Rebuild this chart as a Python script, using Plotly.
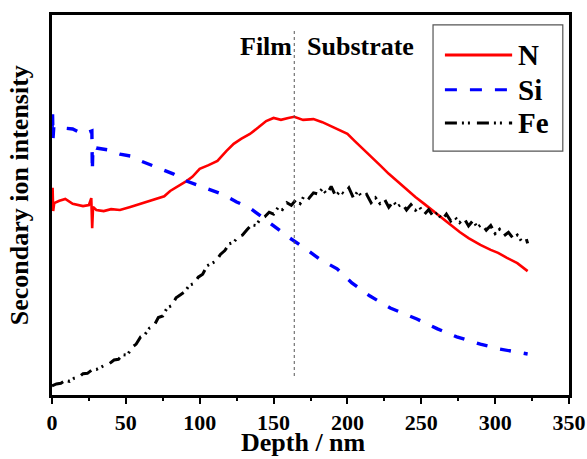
import plotly.graph_objects as go

# Depth profiles (depth in nm, intensity in arbitrary units)
n_depth = [0, 0.4, 0.8, 1.5, 5, 9, 14, 21, 25, 26.6, 27.2, 27.8, 30, 35, 40, 46, 53, 60, 66, 71,
           76, 80, 86, 91, 95, 100, 106, 112, 118, 123, 128, 134, 140, 145, 150, 155, 160, 164,
           170, 177, 183, 190, 195, 200, 205, 210, 216, 222, 228, 234, 240, 246, 252, 258, 264,
           270, 276, 282, 290, 297, 302, 308, 315, 322]
n_int = [50.3, 54.5, 48.4, 50.5, 51.1, 51.6, 50.3, 49.7, 50.0, 51.8, 43.9, 49.5, 48.7, 48.4, 48.9,
         48.7, 49.5, 50.3, 51.1, 51.6, 52.3, 53.7, 55.0, 56.3, 57.4, 59.5, 60.5, 61.6, 64.2, 66.1,
         67.4, 68.7, 70.5, 72.1, 72.9, 72.4, 72.9, 73.2, 72.4, 72.6, 71.8, 70.5, 69.7, 68.7, 66.8,
         65.0, 62.9, 60.5, 58.2, 56.1, 54.2, 52.1, 50.3, 48.4, 46.6, 44.7, 42.9, 41.3, 39.5, 38.2,
         37.4, 36.1, 34.7, 32.6]

si_depth = [0, 0.3, 0.7, 1.2, 6.5, 14, 21, 26, 27, 27.3, 27.7, 30, 38, 46, 53, 60, 68, 75, 82, 91,
            98, 105, 115, 125, 134, 143, 152, 161, 172, 181, 193, 203, 215, 229, 247, 261, 274,
            290, 303, 322]
si_int = [70.8, 75.5, 67.6, 70.5, 70.3, 70.0, 68.7, 69.2, 69.5, 58.9, 65.5, 65.0, 64.5, 63.4, 62.9,
          61.6, 60.3, 59.2, 58.2, 56.3, 55.3, 54.5, 52.9, 50.8, 49.2, 46.6, 43.9, 41.3, 38.4, 35.8,
          33.2, 29.5, 26.1, 22.9, 20.0, 17.4, 15.3, 13.4, 12.1, 10.8]

fe_depth = [0, 3, 6, 9, 12, 15, 18, 21, 24, 27, 30, 33, 36, 39, 42, 45, 48, 51, 54, 57, 60, 63,
            66, 69, 72, 75, 78, 81, 84, 87, 90, 93, 96, 99, 102, 105, 108, 111, 114, 117, 120,
            123, 126, 129, 132, 135, 138, 141, 144, 147, 150, 153, 156, 159, 162, 165, 168, 171,
            174, 177, 180, 183, 186, 189, 192, 195, 198, 201, 204, 207, 210, 213, 216, 219, 222,
            225, 228, 231, 234, 237, 240, 243, 246, 249, 252, 255, 258, 261, 264, 267, 270, 273,
            276, 279, 282, 285, 288, 291, 294, 297, 300, 303, 306, 309, 312, 315, 318, 321, 322]
fe_int = [2.4, 2.9, 3.1, 3.8, 3.6, 4.4, 4.6, 5.6, 5.7, 6.6, 6.7, 7.4, 7.9, 8.3, 9.2, 9.4, 10.6,
          10.5, 12.5, 13.4, 15.3, 16.0, 17.6, 18.2, 20.4, 20.8, 23.0, 23.5, 25.6, 26.4, 27.2, 28.9,
          29.3, 31.0, 31.8, 34.0, 34.6, 35.2, 37.0, 38.0, 39.8, 40.2, 41.6, 42.1, 43.5, 44.8, 44.6,
          46.3, 46.9, 48.1, 47.6, 49.3, 48.8, 50.6, 49.9, 51.3, 50.4, 52.7, 51.8, 53.2, 52.9, 54.3,
          52.8, 54.9, 52.4, 53.6, 52.9, 54.5, 51.9, 53.6, 52.0, 52.8, 50.6, 51.9, 50.4, 51.6, 49.4,
          50.9, 49.6, 50.4, 48.7, 50.1, 48.6, 49.4, 47.5, 48.8, 47.1, 48.0, 46.1, 47.6, 45.8, 46.7,
          45.4, 46.5, 44.5, 45.9, 44.1, 45.0, 43.4, 44.6, 42.5, 43.6, 41.9, 42.8, 41.3, 42.1, 40.4,
          41.2, 39.9]

interface_depth = 164
x_ticks = [0, 50, 100, 150, 200, 250, 300, 350]

legend_names = ["N", "Si", "Fe"]
legend_colors = ["#ff0000", "#0000ff", "#000000"]
legend_dashes = ["solid", "12px,13px", "12px,5px,2px,4px,2px,7px"]

FONT = "Liberation Serif, Times New Roman, serif"

fig = go.Figure()
fig.add_trace(go.Scatter(x=n_depth, y=n_int, mode="lines", name="N",
                         line=dict(color=legend_colors[0], width=2.6)))
fig.add_trace(go.Scatter(x=si_depth, y=si_int, mode="lines", name="Si",
                         line=dict(color=legend_colors[1], width=3.4, dash="11px,13px")))
fig.add_trace(go.Scatter(x=fe_depth, y=fe_int, mode="lines", name="Fe",
                         line=dict(color=legend_colors[2], width=3,
                                   dash=legend_dashes[2])))

# film / substrate interface
fig.add_shape(type="line", x0=interface_depth, x1=interface_depth, y0=5, y1=96,
              xref="x", yref="y", line=dict(color="#555555", width=1, dash="dot"))
fig.add_annotation(x=interface_depth, y=91.6, xref="x", yref="y", text="Film",
                   xanchor="right", yanchor="middle", showarrow=False,
                   font=dict(family=FONT, size=26, color="black", weight="bold"))
fig.add_annotation(x=interface_depth + 7, y=91.6, xref="x", yref="y", text="Substrate",
                   xanchor="left", yanchor="middle", showarrow=False,
                   font=dict(family=FONT, size=26, color="black", weight="bold"))

# legend box drawn in paper coordinates
fig.add_shape(type="rect", xref="paper", yref="paper", x0=0.737, x1=0.988, y0=0.642, y1=0.974,
              line=dict(color="#555555", width=1.2), fillcolor="white", layer="above")
rows_y = [0.895, 0.803, 0.716]
for name, color, dash, yy in zip(legend_names, legend_colors, legend_dashes, rows_y):
    fig.add_shape(type="line", xref="paper", yref="paper", x0=0.760, x1=0.890, y0=yy, y1=yy,
                  line=dict(color=color, width=3, dash=dash), layer="above")
    fig.add_annotation(xref="paper", yref="paper", x=0.898, y=yy, text=name,
                       xanchor="left", yanchor="middle", showarrow=False,
                       font=dict(family=FONT, size=29, color="black", weight="bold"))

# axis titles
fig.add_annotation(xref="paper", yref="paper", x=0.486, y=-0.124, text="Depth / nm",
                   xanchor="center", yanchor="middle", showarrow=False,
                   font=dict(family=FONT, size=26, color="black", weight="bold"))
fig.add_annotation(xref="paper", yref="paper", x=-0.063, y=0.527,
                   text="Secondary ion intensity", textangle=-90,
                   xanchor="center", yanchor="middle", showarrow=False,
                   font=dict(family=FONT, size=26, color="black", weight="bold"))

fig.update_layout(
    width=587, height=459,
    margin=dict(l=52, r=18, t=15, b=64, autoexpand=False),
    paper_bgcolor="white", plot_bgcolor="white",
    showlegend=False,
    xaxis=dict(range=[0, 350], tickvals=x_ticks, ticks="outside", ticklen=6, tickwidth=2,
               tickcolor="black", showline=True, linecolor="black", linewidth=2.5,
               mirror=True, showgrid=False, zeroline=False, automargin=False,
               minor=dict(dtick=25, ticks="outside", ticklen=3, tickwidth=2, tickcolor="black"),
               tickfont=dict(family=FONT, size=22, color="black", weight="bold")),
    yaxis=dict(range=[0, 100], showticklabels=False, ticks="", showline=True,
               linecolor="black", linewidth=2.5, mirror=True, showgrid=False,
               zeroline=False, automargin=False),
)

fig.write_html("out.html")
